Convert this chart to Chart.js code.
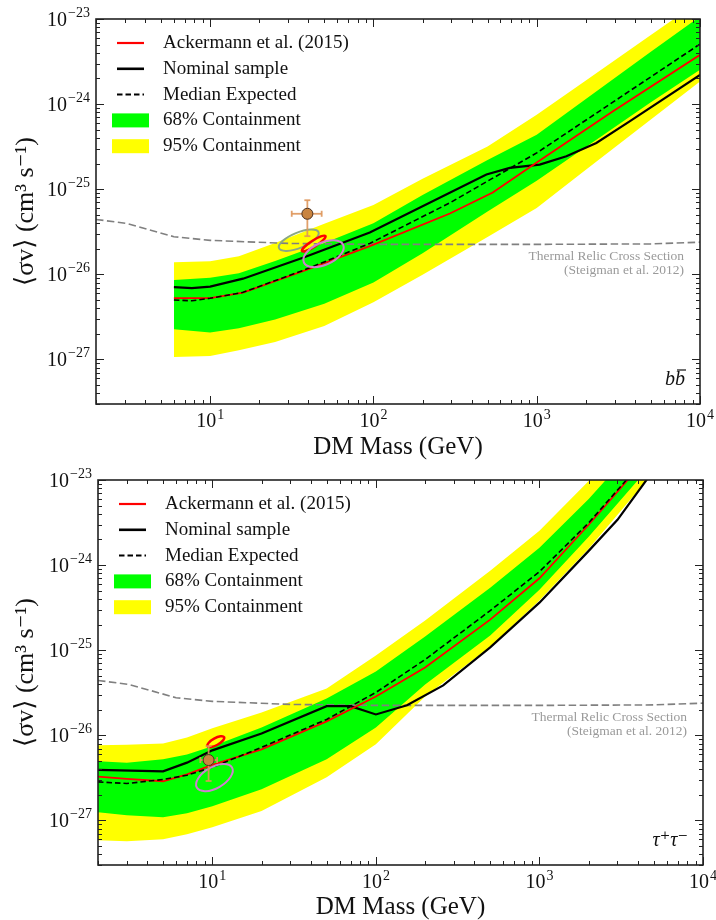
<!DOCTYPE html>
<html>
<head>
<meta charset="utf-8">
<script src="https://cdn.jsdelivr.net/npm/chart.js@4.4.1/dist/chart.umd.min.js"></script>
<style>
  html, body { margin: 0; padding: 0; background: #fff; }
  canvas { display: block; }
</style>
</head>
<body>
<canvas id="chart-bb" width="716" height="460"></canvas>
<canvas id="chart-tautau" width="716" height="460"></canvas>
<script>
(function () {
  'use strict';

  // ---- axes ----
  const massMin = 2;
  const massMax = 1e4;
  const sigmaMin = 3e-28;
  const sigmaMax = 1e-23;
  const xMajorTicks = [1e1, 1e2, 1e3, 1e4];
  const xMajorExp = ['1', '2', '3', '4'];
  const yMajorTicks = [1e-27, 1e-26, 1e-25, 1e-24, 1e-23];
  const yMajorExp = ['\u221227', '\u221226', '\u221225', '\u221224', '\u221223'];
  const minorSteps = [2, 3, 4, 5, 6, 7, 8, 9];

  const legendLabels = ['Ackermann et al. (2015)', 'Nominal sample', 'Median Expected', '68% Containment', '95% Containment'];

  // ---- thermal relic (both panels) ----
  const relicMass = [2, 3.1, 6, 10, 30, 100, 1000, 5000, 10000];
  const relicSigma = [4.42e-26, 3.96e-26, 2.77e-26, 2.51e-26, 2.31e-26, 2.25e-26, 2.25e-26, 2.28e-26, 2.39e-26];

  // ---- b bbar panel ----
  const bbBandMass = [6, 10, 15, 25, 50, 100, 200, 500, 1000, 2000, 5000, 10000];
  const bbYellowHi = [1.39e-26, 1.43e-26, 1.63e-26, 2.34e-26, 3.92e-26, 6.53e-26, 1.33e-25, 3.17e-25, 7.52e-25, 1.90e-24, 6.5e-24, 1.63e-23];
  const bbGreenHi = [8.57e-27, 9.15e-27, 1.03e-26, 1.44e-26, 2.34e-26, 3.99e-26, 8.55e-26, 2.2e-25, 4.37e-25, 1.15e-24, 4.11e-24, 1.07e-23];
  const bbGreenLo = [2.27e-27, 2.07e-27, 2.33e-27, 2.94e-27, 4.52e-27, 8.05e-27, 1.77e-26, 5.48e-26, 1.26e-25, 3.14e-25, 1.05e-24, 2.53e-24];
  const bbYellowLo = [1.07e-27, 1.10e-27, 1.28e-27, 1.6e-27, 2.48e-27, 4.7e-27, 9.9e-27, 2.74e-26, 6.02e-26, 1.69e-25, 6.61e-25, 1.85e-24];
  const bbMedianMass = [6, 7.73, 10, 15.9, 37, 95, 294, 1000, 10000];
  const bbMedian = [5.0e-27, 4.89e-27, 5.23e-27, 6.15e-27, 1.11e-26, 2.31e-26, 6.93e-26, 2.67e-25, 5.07e-24];
  const bbRedMass = [6, 10, 15.9, 37, 95, 294, 538, 1000, 2917, 10000];
  const bbRed = [5.27e-27, 5.27e-27, 6.1e-27, 1.09e-26, 2.15e-26, 5.19e-26, 9.14e-26, 2.06e-25, 8.2e-25, 3.79e-24];
  const bbNominalMass = [6, 7.73, 10, 15.9, 37, 95, 492, 684, 1043, 1520, 2318, 3707, 10000];
  const bbNominal = [7.1e-27, 6.91e-27, 7.18e-27, 8.9e-27, 1.57e-26, 3.1e-26, 1.49e-25, 1.78e-25, 1.95e-25, 2.44e-25, 3.5e-25, 6.26e-25, 2.21e-24];
  const bbPoint = [39.4, 5.15e-26];
  const bbPointMassErr = [31.6, 48.2];
  const bbPointSigmaErr = [2.81e-26, 7.43e-26];
  const bbEllipseCenters = [[34.9, 2.52e-26], [43.1, 2.30e-26], [49.5, 1.75e-26]];
  const bbEllipseAxisEnds = [[46.1, 3.13e-26], [50.8, 2.82e-26], [65.3, 2.22e-26]];
  const bbEllipseRatios = [0.36, 0.22, 0.52];

  // ---- tau tau panel ----
  const ttBandMass = [2, 3, 5, 7, 10, 20, 50, 100, 200, 500, 1000, 2000, 5000];
  const ttYellowHi = [7.64e-27, 7.74e-27, 8.05e-27, 9.47e-27, 1.21e-26, 1.86e-26, 3.56e-26, 8.67e-26, 2.23e-25, 8.59e-25, 2.53e-24, 9.75e-24, 6.64e-23];
  const ttGreenHi = [4.95e-27, 4.76e-27, 5.23e-27, 5.98e-27, 7.43e-27, 1.24e-26, 2.72e-26, 5.62e-26, 1.45e-25, 5.43e-25, 1.60e-24, 6.0e-24, 4.2e-23];
  const ttGreenLo = [1.25e-27, 1.15e-27, 1.09e-27, 1.22e-27, 1.47e-27, 2.33e-27, 5.23e-27, 1.24e-26, 3.96e-26, 1.49e-25, 5.15e-25, 2.15e-24, 1.63e-23];
  const ttYellowLo = [5.87e-28, 5.71e-28, 6.04e-28, 6.90e-28, 8.34e-28, 1.29e-27, 3.22e-27, 7.84e-27, 2.86e-26, 1.10e-25, 3.83e-25, 1.56e-24, 1.24e-23];
  const ttMedian = [2.84e-27, 2.72e-27, 3.03e-27, 3.40e-27, 4.22e-27, 7.23e-27, 1.54e-26, 3.19e-26, 7.78e-26, 2.92e-25, 8.37e-25, 3.14e-24, 2.32e-23];
  const ttRed = [3.28e-27, 3.09e-27, 2.89e-27, 3.49e-27, 4.51e-27, 6.85e-27, 1.46e-26, 2.86e-26, 6.27e-26, 2.29e-25, 7.01e-25, 2.98e-24, 2.25e-23];
  const ttNominalMass = [2, 5, 7, 10, 20, 50, 70, 100, 155, 258, 500, 1000, 2000, 3000, 5000];
  const ttNominal = [3.94e-27, 3.78e-27, 4.78e-27, 6.67e-27, 1.05e-26, 2.2e-26, 2.2e-26, 1.76e-26, 2.26e-26, 3.86e-26, 1.08e-25, 3.62e-25, 1.47e-24, 3.41e-24, 1.31e-23];
  const ttPoint = [9.49, 5.13e-27];
  const ttPointMassErr = [8.45, 10.7];
  const ttPointSigmaErr = [2.91e-27, 7.48e-27];
  const ttEllipseCenters = [[10.5, 8.43e-27], [10.3, 3.19e-27]];
  const ttEllipseAxisEnds = [[11.8, 9.53e-27], [13.2, 4.18e-27]];
  const ttEllipseRatios = [0.37, 0.52];

  const SERIF = "'Liberation Serif', 'DejaVu Serif', serif";
  const red = '#ff0000';
  const green = '#00ff00';
  const yellow = '#ffff00';
  const relicGray = '#808080';
  const pointFill = '#c98440';
  const errColor = 'rgba(222, 150, 90, 0.9)';

  Chart.defaults.font.family = SERIF;
  Chart.defaults.color = '#111';

  const pts = (xs, ys) => xs.map((m, i) => ({ x: m, y: ys[i] }));

  function line(ctx, x0, y0, x1, y1) {
    ctx.beginPath();
    ctx.moveTo(x0, y0);
    ctx.lineTo(x1, y1);
    ctx.stroke();
  }

  function drawFrame(chart) {
    const { ctx, chartArea: a, scales: { x, y } } = chart;
    ctx.save();
    ctx.strokeStyle = '#222';
    ctx.lineWidth = 1;
    xMajorTicks.forEach((major) => {
      [major].concat(minorSteps.map((k) => k * major / 10)).forEach((v, i) => {
        if (v < massMin || v > massMax) return;
        const px = Math.round(x.getPixelForValue(v)) + 0.5;
        const len = i === 0 ? 8 : 4;
        line(ctx, px, a.bottom, px, a.bottom - len);
        line(ctx, px, a.top, px, a.top + len);
      });
    });
    yMajorTicks.forEach((major) => {
      [major].concat(minorSteps.map((k) => k * major / 10)).forEach((v, i) => {
        if (v < sigmaMin || v > sigmaMax) return;
        const py = Math.round(y.getPixelForValue(v)) + 0.5;
        const len = i === 0 ? 8 : 4;
        line(ctx, a.left, py, a.left + len, py);
        line(ctx, a.right, py, a.right - len, py);
      });
    });
    ctx.lineWidth = 1.6;
    ctx.strokeRect(a.left, a.top, a.right - a.left, a.bottom - a.top);

    // tick labels: 10 with raised exponent
    ctx.fillStyle = '#111';
    ctx.textBaseline = 'alphabetic';
    ctx.textAlign = 'left';
    const mainFont = '20px ' + SERIF;
    const expFont = '14px ' + SERIF;
    xMajorTicks.forEach((v, i) => {
      const px = x.getPixelForValue(v);
      ctx.font = mainFont;
      const w1 = ctx.measureText('10').width;
      ctx.font = expFont;
      const w2 = ctx.measureText(xMajorExp[i]).width;
      const start = px - (w1 + w2 + 1) / 2;
      ctx.font = mainFont;
      ctx.fillText('10', start, a.bottom + 23);
      ctx.font = expFont;
      ctx.fillText(xMajorExp[i], start + w1 + 1, a.bottom + 15);
    });
    yMajorTicks.forEach((v, i) => {
      const py = y.getPixelForValue(v);
      ctx.font = expFont;
      const w2 = ctx.measureText(yMajorExp[i]).width;
      ctx.font = mainFont;
      const w1 = ctx.measureText('10').width;
      const end = a.left - 6;
      ctx.fillText('10', end - w2 - 1 - w1, py + 6.5);
      ctx.font = expFont;
      ctx.fillText(yMajorExp[i], end - w2, py - 2.5);
    });
    ctx.restore();
  }

  function drawLegend(chart) {
    const { ctx, chartArea: a } = chart;
    const ds = chart.data.datasets;
    ctx.save();
    ctx.font = '19px ' + SERIF;
    ctx.textBaseline = 'middle';
    ctx.textAlign = 'left';
    ctx.fillStyle = '#111';
    legendLabels.forEach((label, i) => {
      const rowY = a.top + 24 + i * 25.8;
      if (i < 3) {
        const d = ds[i];
        ctx.strokeStyle = d.borderColor;
        ctx.lineWidth = d.borderWidth + 0.4;
        ctx.setLineDash(d.borderDash || []);
        line(ctx, a.left + 21, rowY, a.left + 48, rowY);
        ctx.setLineDash([]);
      } else {
        ctx.fillStyle = i === 3 ? green : yellow;
        ctx.fillRect(a.left + 16, rowY - 7, 37, 14);
        ctx.fillStyle = '#111';
      }
      ctx.fillText(label, a.left + 67, rowY);
    });
    ctx.restore();
  }

  function drawNotes(chart, p) {
    const { ctx, chartArea: a, scales: { y } } = chart;
    ctx.save();
    const ry = y.getPixelForValue(relicSigma[6]);
    ctx.font = '13.5px ' + SERIF;
    ctx.fillStyle = '#9a9a9a';
    ctx.textAlign = 'right';
    ctx.textBaseline = 'middle';
    ctx.fillText('Thermal Relic Cross Section', a.right - 16, ry + 12.5);
    ctx.fillText('(Steigman et al. 2012)', a.right - 16, ry + 26);
    ctx.font = 'italic 20px ' + SERIF;
    ctx.fillStyle = '#111';
    ctx.textBaseline = 'alphabetic';
    ctx.fillText(p.channel, a.right - 15, a.bottom - 19);
    if (p.macron) {
      const wb = ctx.measureText('b').width;
      ctx.strokeStyle = '#111';
      ctx.lineWidth = 1.2;
      line(ctx, a.right - 15 - wb + 2, a.bottom - 34, a.right - 15 + 1, a.bottom - 34);
    }
    ctx.restore();
  }

  function drawMarks(chart, p) {
    const { ctx, scales: { x, y } } = chart;
    ctx.save();
    p.ellipseCenters.forEach((c, i) => {
      const cx = x.getPixelForValue(c[0]);
      const cy = y.getPixelForValue(c[1]);
      const ex = x.getPixelForValue(p.ellipseAxisEnds[i][0]);
      const ey = y.getPixelForValue(p.ellipseAxisEnds[i][1]);
      const r = Math.hypot(ex - cx, ey - cy);
      ctx.beginPath();
      ctx.ellipse(cx, cy, r, r * p.ellipseRatios[i], Math.atan2(ey - cy, ex - cx), 0, Math.PI * 2);
      ctx.strokeStyle = p.ellipseColors[i];
      ctx.lineWidth = p.ellipseWidths[i];
      ctx.stroke();
    });
    // error bars of the point
    const px = x.getPixelForValue(p.point[0]);
    const py = y.getPixelForValue(p.point[1]);
    const x0 = x.getPixelForValue(p.pointMassErr[0]);
    const x1 = x.getPixelForValue(p.pointMassErr[1]);
    const y0 = y.getPixelForValue(p.pointSigmaErr[0]);
    const y1 = y.getPixelForValue(p.pointSigmaErr[1]);
    ctx.strokeStyle = errColor;
    ctx.lineWidth = 1.8;
    line(ctx, x0, py, x1, py);
    line(ctx, px, y0, px, y1);
    line(ctx, x0, py - 3, x0, py + 3);
    line(ctx, x1, py - 3, x1, py + 3);
    line(ctx, px - 3, y0, px + 3, y0);
    line(ctx, px - 3, y1, px + 3, y1);
    ctx.restore();
  }

  function makePanel(canvasId, p) {
    const canvas = document.getElementById(canvasId);
    if (!canvas) return;

    const lineBase = { pointRadius: 0, tension: 0, fill: false, borderCapStyle: 'butt' };
    const decor = {
      id: 'decor',
      beforeDatasetDraw(chart, args) {
        if (args.index === 8) drawMarks(chart, p);
      },
      afterDatasetsDraw(chart) {
        drawFrame(chart);
        drawLegend(chart);
        drawNotes(chart, p);
      },
    };

    new Chart(canvas, {
      type: 'line',
      data: {
        datasets: [
          { ...lineBase, label: legendLabels[0], data: pts(p.redMass, p.red), borderColor: red, borderWidth: 1.8, order: 2 },
          { ...lineBase, label: legendLabels[1], data: pts(p.nominalMass, p.nominal), borderColor: '#000', borderWidth: 2.2, order: 3 },
          { ...lineBase, label: legendLabels[2], data: pts(p.medianMass, p.median), borderColor: '#000', borderWidth: 1.6, borderDash: [5.5, 3], order: 1 },
          { ...lineBase, label: 'Thermal relic', data: pts(relicMass, relicSigma), borderColor: relicGray, borderWidth: 1.6, borderDash: [7.5, 3.5], order: 4 },
          { ...lineBase, label: legendLabels[3], data: pts(p.bandMass, p.greenHi), borderWidth: 0, backgroundColor: green, fill: '+1', order: 5 },
          { ...lineBase, label: '68 lo', data: pts(p.bandMass, p.greenLo), borderWidth: 0, order: 5 },
          { ...lineBase, label: legendLabels[4], data: pts(p.bandMass, p.yellowHi), borderWidth: 0, backgroundColor: yellow, fill: '+1', order: 6 },
          { ...lineBase, label: '95 lo', data: pts(p.bandMass, p.yellowLo), borderWidth: 0, order: 6 },
          {
            label: 'Point', data: [{ x: p.point[0], y: p.point[1] }], showLine: false,
            pointRadius: 5.5, pointBackgroundColor: pointFill, pointBorderColor: '#4a3020', pointBorderWidth: 1, order: 0,
          },
        ],
      },
      options: {
        responsive: false,
        animation: false,
        devicePixelRatio: 1,
        events: [],
        layout: { padding: { top: p.padTop, right: p.padRight, left: 0, bottom: 0 } },
        plugins: { legend: { display: false }, tooltip: { enabled: false } },
        scales: {
          x: {
            type: 'logarithmic',
            min: massMin,
            max: massMax,
            bounds: 'data',
            grid: { display: false },
            border: { display: false },
            ticks: { display: false },
            title: { display: true, text: 'DM Mass (GeV)', font: { size: 25, lineHeight: 1 }, padding: { top: 0, bottom: 0.5 } },
            afterFit: (scale) => { scale.height = p.xAxisHeight; },
          },
          y: {
            type: 'logarithmic',
            min: sigmaMin,
            max: sigmaMax,
            bounds: 'data',
            grid: { display: false },
            border: { display: false },
            ticks: { display: false },
            title: { display: true, text: '\u27e8\u03c3v\u27e9 (cm\u00b3 s\u207b\u00b9)', font: { size: 26, lineHeight: 1 }, padding: { top: 13, bottom: 0 } },
            afterFit: (scale) => { scale.width = p.yAxisWidth; },
          },
        },
      },
      plugins: [decor],
    });
  }

  makePanel('chart-bb', {
    bandMass: bbBandMass, yellowHi: bbYellowHi, greenHi: bbGreenHi, greenLo: bbGreenLo, yellowLo: bbYellowLo,
    medianMass: bbMedianMass, median: bbMedian, redMass: bbRedMass, red: bbRed,
    nominalMass: bbNominalMass, nominal: bbNominal,
    point: bbPoint, pointMassErr: bbPointMassErr, pointSigmaErr: bbPointSigmaErr,
    ellipseCenters: bbEllipseCenters, ellipseAxisEnds: bbEllipseAxisEnds, ellipseRatios: bbEllipseRatios,
    ellipseColors: ['#8aa883', red, '#cf7fd0'], ellipseWidths: [2, 2.5, 2],
    channel: 'bb', macron: true,
    padTop: 19, padRight: 16, xAxisHeight: 56, yAxisWidth: 96,
  });

  makePanel('chart-tautau', {
    bandMass: ttBandMass, yellowHi: ttYellowHi, greenHi: ttGreenHi, greenLo: ttGreenLo, yellowLo: ttYellowLo,
    medianMass: ttBandMass, median: ttMedian, redMass: ttBandMass, red: ttRed,
    nominalMass: ttNominalMass, nominal: ttNominal,
    point: ttPoint, pointMassErr: ttPointMassErr, pointSigmaErr: ttPointSigmaErr,
    ellipseCenters: ttEllipseCenters, ellipseAxisEnds: ttEllipseAxisEnds, ellipseRatios: ttEllipseRatios,
    ellipseColors: [red, '#cf7fd0'], ellipseWidths: [2.5, 2],
    channel: '\u03c4\u207a\u03c4\u207b', macron: false,
    padTop: 20, padRight: 13, xAxisHeight: 55, yAxisWidth: 98,
  });
})();
</script>
</body>
</html>
